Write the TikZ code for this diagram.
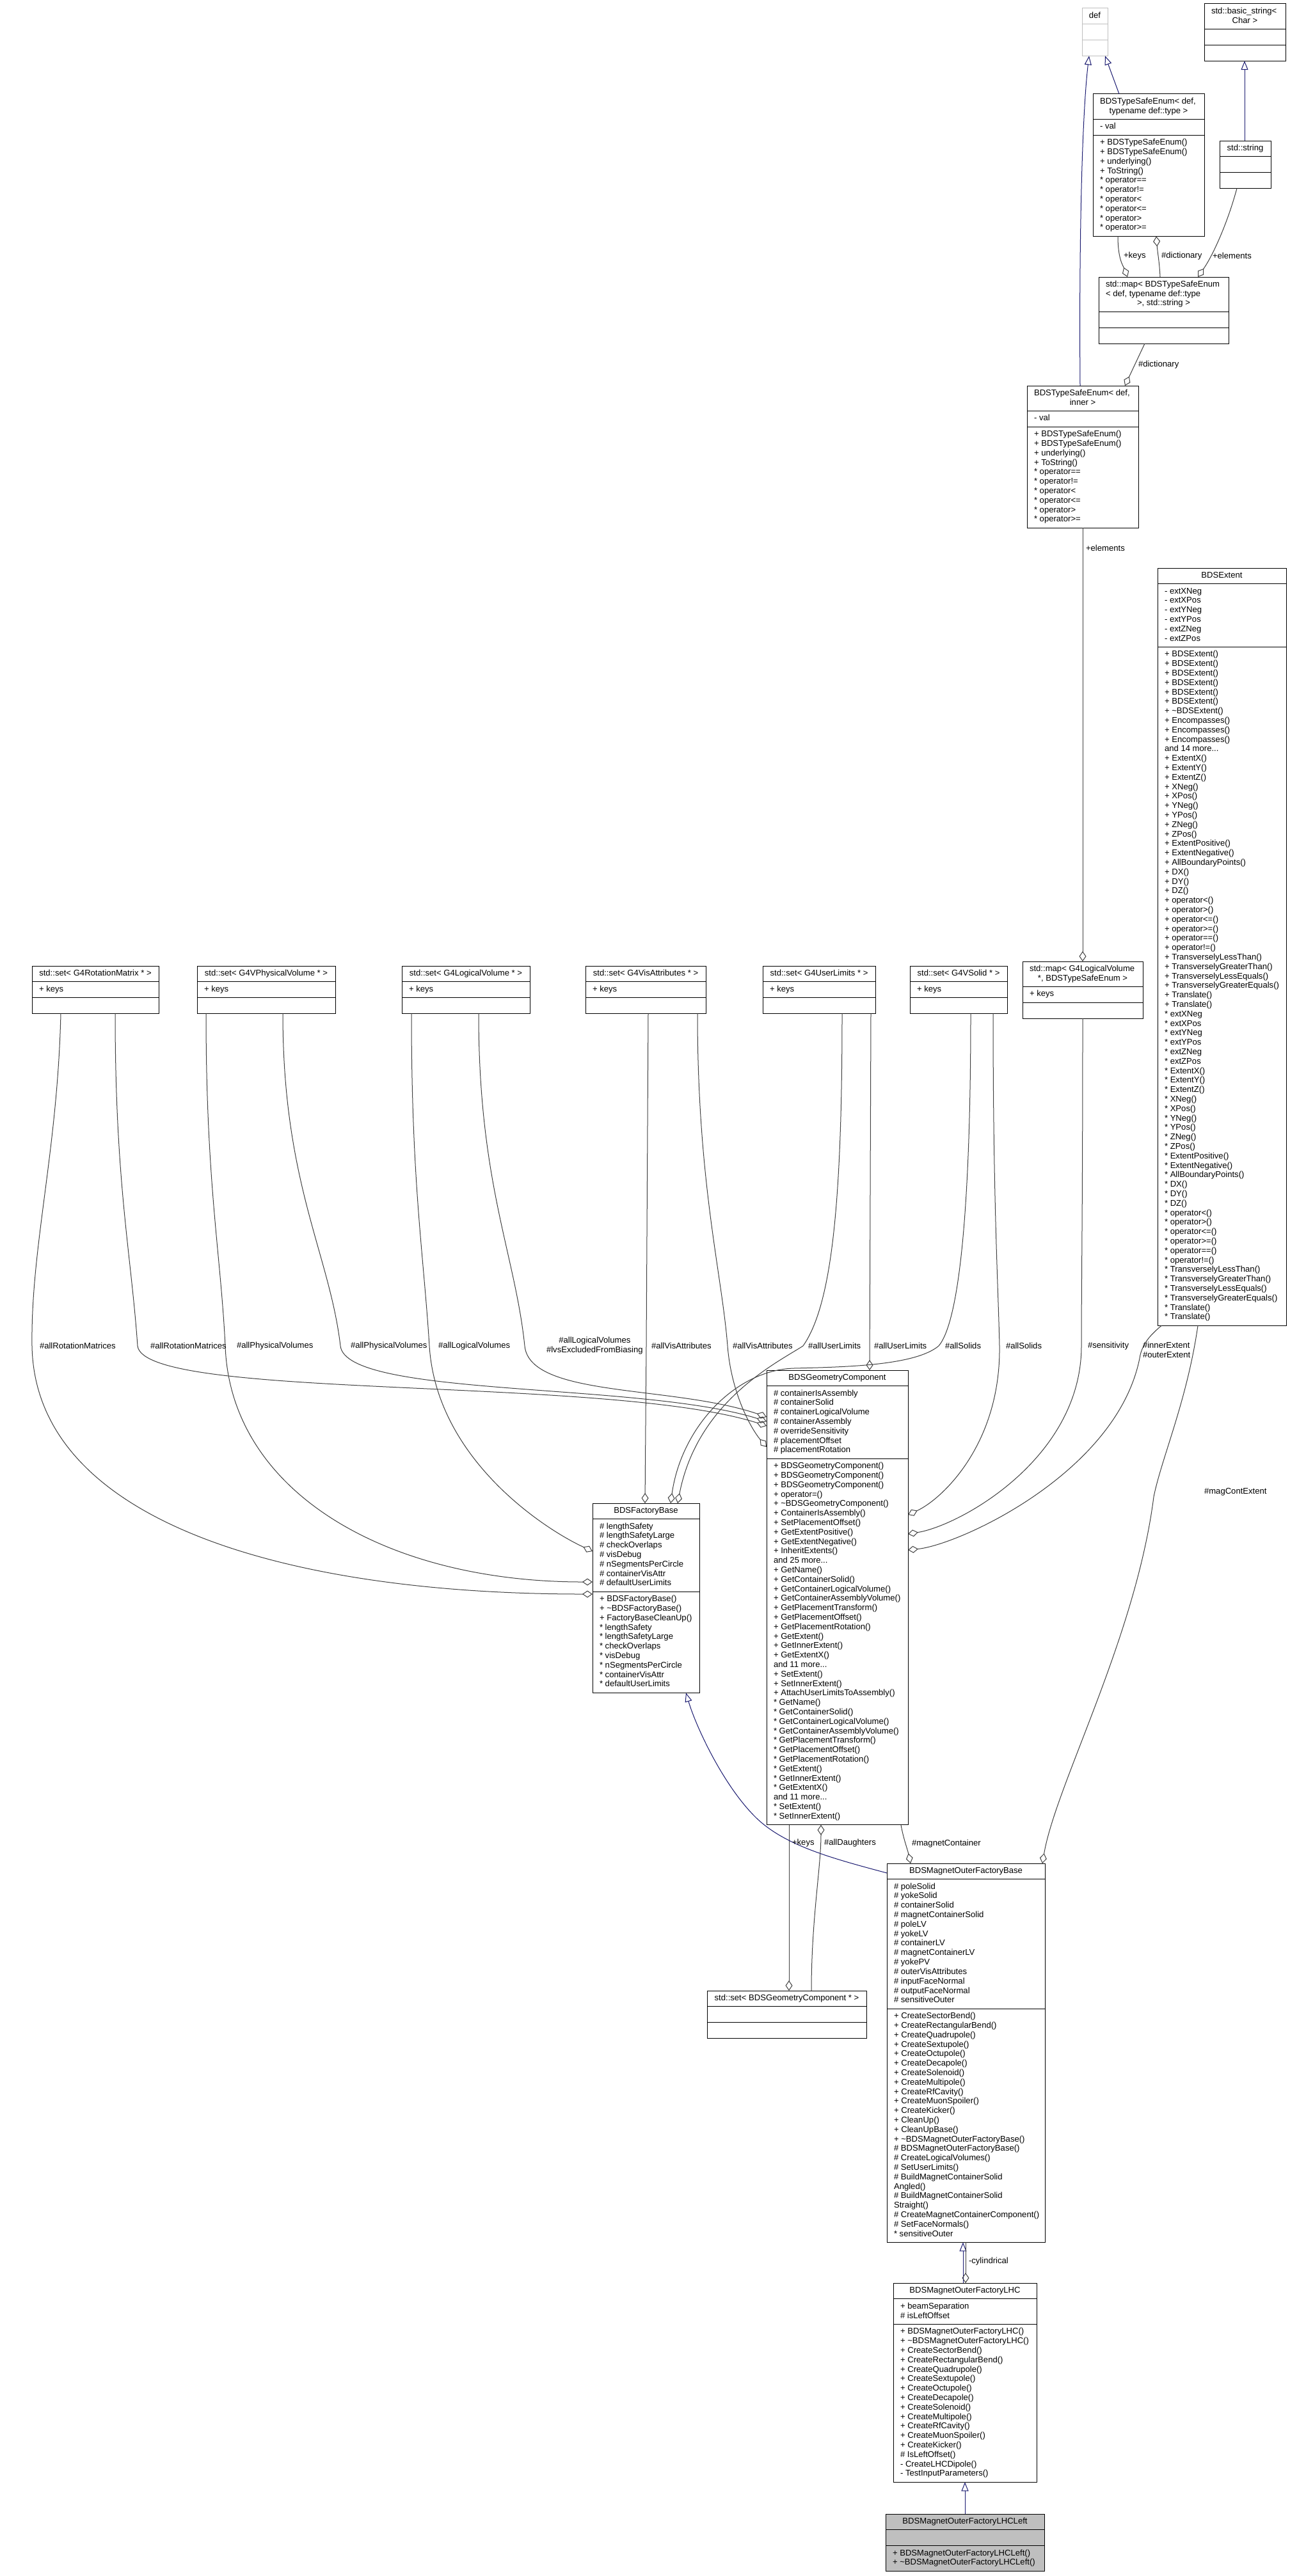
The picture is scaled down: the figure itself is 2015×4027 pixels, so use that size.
\documentclass[tikz,border=0pt]{standalone}
\usepackage{fontspec}
\setmainfont{Liberation Sans}
\usetikzlibrary{arrows.meta,calc}
\definecolor{edgegray}{HTML}{404040}
\definecolor{inhblue}{HTML}{191970}
\definecolor{lgray}{HTML}{BFBFBF}
\newcommand{\fnt}{\fontsize{13.1bp}{14.8bp}\selectfont}
\newcommand{\tb}[2]{\begin{tabular}{@{}#1@{}}#2\end{tabular}}
\newcommand{\st}{{*}}
% class box: [style]{name}{x}{y}{width}{title lines}{attr lines}{method lines}
\newcommand{\clsbox}[8][]{%
  \pgfmathsetmacro{\hT}{#6*14.8+10}%
  \pgfmathsetmacro{\hA}{max(#7,1)*14.8+10}%
  \pgfmathsetmacro{\hM}{max(#8,1)*14.8+10}%
  \pgfmathsetmacro{\hH}{\hT+\hA+\hM}%
  \pgfmathsetmacro{\hTA}{\hT+\hA}%
  \node[umlbox,#1,minimum width=#5bp,minimum height=\hH bp] (#2) at (#3,#4) {};
  \draw[sepline,#1] ([yshift=-\hT bp]#2.north west) -- ([yshift=-\hT bp]#2.north east);
  \draw[sepline,#1] ([yshift=-\hTA bp]#2.north west) -- ([yshift=-\hTA bp]#2.north east);
  \expandafter\xdef\csname hT#2\endcsname{\hT}%
  \expandafter\xdef\csname hTA#2\endcsname{\hTA}%
}
\newcommand{\ttlone}[2]{\node[txt,anchor=north] (#1-t) at ([yshift=-5bp]#1.north) {\tb{c}{#2}};}
\newcommand{\ttlmul}[4]{%
  \node[txt,anchor=north west] (#1-t) at ([xshift=11bp,yshift=-5bp]#1.north west) {\tb{l}{#3}};
  \pgfmathsetmacro{\yy}{5+#2*14.8}%
  \node[txt,anchor=north] (#1-u) at ([yshift=-\yy bp]#1.north) {\tb{c}{#4}};}
\newcommand{\att}[2]{%
  \pgfmathsetmacro{\yy}{\csname hT#1\endcsname+5}%
  \node[txt,anchor=north west] (#1-a) at ([xshift=11bp,yshift=-\yy bp]#1.north west) {\tb{l}{#2}};}
\newcommand{\mth}[2]{%
  \pgfmathsetmacro{\yy}{\csname hTA#1\endcsname+5}%
  \node[txt,anchor=north west] (#1-m) at ([xshift=11bp,yshift=-\yy bp]#1.north west) {\tb{l}{#2}};}
\newcommand{\tl}{\textasciitilde}
\begin{document}
\begin{tikzpicture}[x=1bp,y=-1bp,font=\fnt,
  umlbox/.style={draw=black,fill=white,line width=1bp,inner sep=0pt,outer sep=0pt,anchor=north west,rectangle},
  sepline/.style={draw=black,line width=1bp},
  txt/.style={inner sep=0pt,outer sep=0pt,font=\fnt,text=black},
  elabel/.style={inner sep=0pt,outer sep=0pt,font=\fnt,text=black,anchor=west},
  agg/.style={draw=edgegray,line width=1bp,-{Diamond[open,length=16bp,width=11bp]}},
  inh/.style={draw=inhblue,line width=1bp,-{Triangle[open,length=14bp,width=11bp]}}]
\useasboundingbox (0,0) rectangle (2015,4027);
\fill[white] (0,0) rectangle (2015,4027);

% ---------------- boxes ----------------
\clsbox[draw=lgray]{def}{1691}{13}{40}{1}{0}{0}
\ttlone{def}{def}
\clsbox{bstr}{1882}{6}{127}{2}{0}{0}
\ttlmul{bstr}{1}{std::basic\_string<}{Char >}
\clsbox{tse}{1708}{147}{174}{2}{1}{10}
\ttlmul{tse}{1}{BDSTypeSafeEnum< def,}{typename def::type >}
\att{tse}{- val}
\mth{tse}{+ BDSTypeSafeEnum()\\+ BDSTypeSafeEnum()\\+ underlying()\\+ ToString()\\\st{} operator==\\\st{} operator!=\\\st{} operator<\\\st{} operator<=\\\st{} operator>\\\st{} operator>=}
\clsbox{str}{1906}{220}{80}{1}{0}{0}
\ttlone{str}{std::string}
\clsbox{map}{1717}{433}{203}{3}{0}{0}
\ttlmul{map}{2}{std::map< BDSTypeSafeEnum\\< def, typename def::type}{>, std::string >}
\clsbox{tsei}{1605}{603}{174}{2}{1}{10}
\ttlmul{tsei}{1}{BDSTypeSafeEnum< def,}{inner >}
\att{tsei}{- val}
\mth{tsei}{+ BDSTypeSafeEnum()\\+ BDSTypeSafeEnum()\\+ underlying()\\+ ToString()\\\st{} operator==\\\st{} operator!=\\\st{} operator<\\\st{} operator<=\\\st{} operator>\\\st{} operator>=}
\clsbox{ext}{1809}{888}{201}{1}{6}{71}
\ttlone{ext}{BDSExtent}
\att{ext}{- extXNeg\\- extXPos\\- extYNeg\\- extYPos\\- extZNeg\\- extZPos}
\mth{ext}{+ BDSExtent()\\+ BDSExtent()\\+ BDSExtent()\\+ BDSExtent()\\+ BDSExtent()\\+ BDSExtent()\\+ \tl BDSExtent()\\+ Encompasses()\\+ Encompasses()\\+ Encompasses()\\and 14 more...\\+ ExtentX()\\+ ExtentY()\\+ ExtentZ()\\+ XNeg()\\+ XPos()\\+ YNeg()\\+ YPos()\\+ ZNeg()\\+ ZPos()\\+ ExtentPositive()\\+ ExtentNegative()\\+ AllBoundaryPoints()\\+ DX()\\+ DY()\\+ DZ()\\+ operator<()\\+ operator>()\\+ operator<=()\\+ operator>=()\\+ operator==()\\+ operator!=()\\+ TransverselyLessThan()\\+ TransverselyGreaterThan()\\+ TransverselyLessEquals()\\+ TransverselyGreaterEquals()\\+ Translate()\\+ Translate()\\\st{} extXNeg\\\st{} extXPos\\\st{} extYNeg\\\st{} extYPos\\\st{} extZNeg\\\st{} extZPos\\\st{} ExtentX()\\\st{} ExtentY()\\\st{} ExtentZ()\\\st{} XNeg()\\\st{} XPos()\\\st{} YNeg()\\\st{} YPos()\\\st{} ZNeg()\\\st{} ZPos()\\\st{} ExtentPositive()\\\st{} ExtentNegative()\\\st{} AllBoundaryPoints()\\\st{} DX()\\\st{} DY()\\\st{} DZ()\\\st{} operator<()\\\st{} operator>()\\\st{} operator<=()\\\st{} operator>=()\\\st{} operator==()\\\st{} operator!=()\\\st{} TransverselyLessThan()\\\st{} TransverselyGreaterThan()\\\st{} TransverselyLessEquals()\\\st{} TransverselyGreaterEquals()\\\st{} Translate()\\\st{} Translate()}

\clsbox{srot}{50}{1510}{198}{1}{1}{0}
\ttlone{srot}{std::set< G4RotationMatrix * >}
\att{srot}{+ keys}
\clsbox{spv}{308}{1510}{216}{1}{1}{0}
\ttlone{spv}{std::set< G4VPhysicalVolume * >}
\att{spv}{+ keys}
\clsbox{slv}{628}{1510}{200}{1}{1}{0}
\ttlone{slv}{std::set< G4LogicalVolume * >}
\att{slv}{+ keys}
\clsbox{svis}{915}{1510}{188}{1}{1}{0}
\ttlone{svis}{std::set< G4VisAttributes * >}
\att{svis}{+ keys}
\clsbox{sul}{1192}{1510}{176}{1}{1}{0}
\ttlone{sul}{std::set< G4UserLimits * >}
\att{sul}{+ keys}
\clsbox{ssol}{1422}{1510}{152}{1}{1}{0}
\ttlone{ssol}{std::set< G4VSolid * >}
\att{ssol}{+ keys}
\clsbox{mlv}{1598}{1503}{188}{2}{1}{0}
\ttlmul{mlv}{1}{std::map< G4LogicalVolume}{*, BDSTypeSafeEnum >}
\att{mlv}{+ keys}

\clsbox{gc}{1198}{2142}{221}{1}{7}{38}
\ttlone{gc}{BDSGeometryComponent}
\att{gc}{\# containerIsAssembly\\\# containerSolid\\\# containerLogicalVolume\\\# containerAssembly\\\# overrideSensitivity\\\# placementOffset\\\# placementRotation}
\mth{gc}{+ BDSGeometryComponent()\\+ BDSGeometryComponent()\\+ BDSGeometryComponent()\\+ operator=()\\+ \tl BDSGeometryComponent()\\+ ContainerIsAssembly()\\+ SetPlacementOffset()\\+ GetExtentPositive()\\+ GetExtentNegative()\\+ InheritExtents()\\and 25 more...\\+ GetName()\\+ GetContainerSolid()\\+ GetContainerLogicalVolume()\\+ GetContainerAssemblyVolume()\\+ GetPlacementTransform()\\+ GetPlacementOffset()\\+ GetPlacementRotation()\\+ GetExtent()\\+ GetInnerExtent()\\+ GetExtentX()\\and 11 more...\\+ SetExtent()\\+ SetInnerExtent()\\+ AttachUserLimitsToAssembly()\\\st{} GetName()\\\st{} GetContainerSolid()\\\st{} GetContainerLogicalVolume()\\\st{} GetContainerAssemblyVolume()\\\st{} GetPlacementTransform()\\\st{} GetPlacementOffset()\\\st{} GetPlacementRotation()\\\st{} GetExtent()\\\st{} GetInnerExtent()\\\st{} GetExtentX()\\and 11 more...\\\st{} SetExtent()\\\st{} SetInnerExtent()}

\clsbox{fb}{926}{2350}{167}{1}{7}{10}
\ttlone{fb}{BDSFactoryBase}
\att{fb}{\# lengthSafety\\\# lengthSafetyLarge\\\# checkOverlaps\\\# visDebug\\\# nSegmentsPerCircle\\\# containerVisAttr\\\# defaultUserLimits}
\mth{fb}{+ BDSFactoryBase()\\+ \tl BDSFactoryBase()\\+ FactoryBaseCleanUp()\\\st{} lengthSafety\\\st{} lengthSafetyLarge\\\st{} checkOverlaps\\\st{} visDebug\\\st{} nSegmentsPerCircle\\\st{} containerVisAttr\\\st{} defaultUserLimits}

\clsbox{mofb}{1386}{2913}{247}{1}{13}{24}
\ttlone{mofb}{BDSMagnetOuterFactoryBase}
\att{mofb}{\# poleSolid\\\# yokeSolid\\\# containerSolid\\\# magnetContainerSolid\\\# poleLV\\\# yokeLV\\\# containerLV\\\# magnetContainerLV\\\# yokePV\\\# outerVisAttributes\\\# inputFaceNormal\\\# outputFaceNormal\\\# sensitiveOuter}
\mth{mofb}{+ CreateSectorBend()\\+ CreateRectangularBend()\\+ CreateQuadrupole()\\+ CreateSextupole()\\+ CreateOctupole()\\+ CreateDecapole()\\+ CreateSolenoid()\\+ CreateMultipole()\\+ CreateRfCavity()\\+ CreateMuonSpoiler()\\+ CreateKicker()\\+ CleanUp()\\+ CleanUpBase()\\+ \tl BDSMagnetOuterFactoryBase()\\\# BDSMagnetOuterFactoryBase()\\\# CreateLogicalVolumes()\\\# SetUserLimits()\\\# BuildMagnetContainerSolid\\Angled()\\\# BuildMagnetContainerSolid\\Straight()\\\# CreateMagnetContainerComponent()\\\# SetFaceNormals()\\\st{} sensitiveOuter}

\clsbox{sgc}{1105}{3112}{249}{1}{0}{0}
\ttlone{sgc}{std::set< BDSGeometryComponent * >}

\clsbox{lhc}{1396}{3569}{224}{1}{2}{16}
\ttlone{lhc}{BDSMagnetOuterFactoryLHC}
\att{lhc}{+ beamSeparation\\\# isLeftOffset}
\mth{lhc}{+ BDSMagnetOuterFactoryLHC()\\+ \tl BDSMagnetOuterFactoryLHC()\\+ CreateSectorBend()\\+ CreateRectangularBend()\\+ CreateQuadrupole()\\+ CreateSextupole()\\+ CreateOctupole()\\+ CreateDecapole()\\+ CreateSolenoid()\\+ CreateMultipole()\\+ CreateRfCavity()\\+ CreateMuonSpoiler()\\+ CreateKicker()\\\# IsLeftOffset()\\- CreateLHCDipole()\\- TestInputParameters()}

\clsbox[fill=lgray]{lhcl}{1384}{3930}{248}{1}{0}{2}
\ttlone{lhcl}{BDSMagnetOuterFactoryLHCLeft}
\mth{lhcl}{+ BDSMagnetOuterFactoryLHCLeft()\\+ \tl BDSMagnetOuterFactoryLHCLeft()}

% ---------------- top edges ----------------
\draw[inh] ($(tse.north west)+(41,0)$) -- ($(def.south west)+(36,0)$);
\draw[inh] ($(tsei.north west)+(83,0)$) .. controls (1686,350) and (1692,170) .. ($(def.south west)+(11,0)$);
\draw[inh] ($(str.north west)+(39,0)$) -- ($(bstr.south west)+(63,0)$);
\draw[agg] ($(tse.south west)+(39,0)$) .. controls (1747,405) and (1755,415) .. ($(map.north west)+(45,0)$);
\draw[agg] ($(map.north west)+(96,0)$) .. controls (1812,410) and (1809,395) .. ($(tse.south west)+(99,0)$);
\draw[agg] ($(str.south west)+(27,0)$) .. controls (1918,350) and (1895,400) .. ($(map.north west)+(155,0)$);
\draw[agg] ($(map.south west)+(72,0)$) -- ($(tsei.north west)+(153,0)$);
\draw[agg] ($(tsei.south west)+(87,0)$) -- ($(mlv.north west)+(94,0)$);
\node[elabel] (lk1) at (1756,400) {+keys};
\node[elabel] (ld1) at (1815,400) {\#dictionary};
\node[elabel] (le1) at (1895,400) {+elements};
\node[elabel] (ld2) at (1779,570) {\#dictionary};
\node[elabel] (le2) at (1697,857) {+elements};

% ---------------- set edges ----------------
\coordinate (wRotFB) at (50,2104);
\coordinate (wRotGC) at (215,2104);
\coordinate (wPvFB) at (352,2104);
\coordinate (wPvGC) at (532,2104);
\coordinate (wLvFB) at (671,2104);
\coordinate (wLvGC) at (820,2104);
\coordinate (wVisFB) at (1010,2104);
\coordinate (wVisGC) at (1137,2104);
\coordinate (wUlFB) at (1255,2104);
\coordinate (wSolFB) at (1467,2104);
\coordinate (wSolGC) at (1562,2104);
\coordinate (wSens) at (1690,2104);
\coordinate (wExt) at (1782,2118);
\coordinate (wMag) at (1803,2340);

\draw[agg] ($(srot.south west)+(45,0)$) .. controls (90,1800) and (48,1950) .. (wRotFB) .. controls (55,2380) and (450,2492) .. ($(fb.north west)+(0,142)$);
\draw[agg] ($(srot.south west)+(130,0)$) .. controls (180,1850) and (205,1960) .. (wRotGC) .. controls (225,2190) and (950,2150) .. ($(gc.north west)+(0,87)$);
\draw[agg] ($(spv.south west)+(14,0)$) .. controls (322,1850) and (345,1960) .. (wPvFB) .. controls (360,2330) and (600,2473) .. ($(fb.north west)+(0,123)$);
\draw[agg] ($(spv.south west)+(134,0)$) .. controls (442,1850) and (515,1960) .. (wPvGC) .. controls (541,2185) and (1000,2160) .. ($(gc.north west)+(0,80)$);
\draw[agg] ($(slv.south west)+(15,0)$) .. controls (643,1850) and (662,1960) .. (wLvFB) .. controls (682,2280) and (850,2390) .. ($(fb.north west)+(0,75)$);
\draw[agg] ($(slv.south west)+(120,0)$) .. controls (748,1850) and (805,1960) .. (wLvGC) .. controls (828,2185) and (1050,2165) .. ($(gc.north west)+(0,73)$);
\draw[agg] ($(svis.south west)+(98,0)$) -- (wVisFB) -- ($(fb.north west)+(82,0)$);
\draw[agg] ($(svis.south west)+(175,0)$) .. controls (1090,1850) and (1128,1990) .. (wVisGC) .. controls (1143,2180) and (1175,2235) .. ($(gc.north west)+(0,120)$);
\draw[agg] ($(sul.south west)+(124,0)$) .. controls (1316,1880) and (1300,2040) .. (wUlFB) .. controls (1215,2130) and (1090,2190) .. ($(fb.north west)+(133,0)$);
\draw[agg] ($(sul.south west)+(169,0)$) -- ($(gc.north west)+(161,0)$);
\draw[agg] ($(ssol.south west)+(95,0)$) .. controls (1517,1880) and (1500,2065) .. (wSolFB) .. controls (1430,2135) and (1320,2137) .. (1240,2139) .. controls (1150,2142) and (1065,2230) .. ($(fb.north west)+(122,0)$);
\draw[agg] ($(ssol.south west)+(130,0)$) .. controls (1552,1880) and (1560,2010) .. (wSolGC) .. controls (1564,2260) and (1470,2345) .. ($(gc.north east)+(0,226)$);
\draw[agg] ($(mlv.south west)+(94,0)$) .. controls (1692,1880) and (1690,2010) .. (wSens) .. controls (1690,2280) and (1500,2385) .. ($(gc.north east)+(0,256)$);
\draw[agg] ($(ext.south west)+(6,0)$) .. controls (1800,2085) and (1787,2098) .. (wExt) .. controls (1750,2300) and (1500,2415) .. ($(gc.north east)+(0,281)$);
\draw[agg] ($(ext.south west)+(63,0)$) .. controls (1855,2190) and (1815,2280) .. (wMag) .. controls (1775,2560) and (1650,2790) .. ($(mofb.north west)+(243,0)$);

\node[elabel] (la1) at (62,2104) {\#allRotationMatrices};
\node[elabel] (la2) at (235,2104) {\#allRotationMatrices};
\node[elabel] (la3) at (370,2104) {\#allPhysicalVolumes};
\node[elabel] (la4) at (548,2104) {\#allPhysicalVolumes};
\node[elabel] (la5) at (685,2104) {\#allLogicalVolumes};
\node[elabel] (la6) at (854,2104) {\tb{c}{\#allLogicalVolumes\\\#lvsExcludedFromBiasing}};
\node[elabel] (la7) at (1018,2104) {\#allVisAttributes};
\node[elabel] (la8) at (1145,2104) {\#allVisAttributes};
\node[elabel] (la9) at (1263,2104) {\#allUserLimits};
\node[elabel] (la10) at (1366,2104) {\#allUserLimits};
\node[elabel] (la11) at (1477,2104) {\#allSolids};
\node[elabel] (la12) at (1572,2104) {\#allSolids};
\node[elabel] (la13) at (1700,2104) {\#sensitivity};
\node[elabel] (la14) at (1786,2112) {\tb{l}{\#innerExtent\\\#outerExtent}};
\node[elabel] (la15) at (1882,2332) {\#magContExtent};

% ---------------- lower edges ----------------
\draw[agg] ($(gc.south west)+(210,0)$) .. controls (1412,2875) and (1418,2890) .. ($(mofb.north west)+(37,0)$);
\draw[agg] ($(gc.south west)+(35,0)$) -- ($(sgc.north west)+(128,0)$);
\draw[agg] ($(sgc.north west)+(163,0)$) .. controls (1268,3000) and (1283,2920) .. ($(gc.south west)+(85,0)$);
\draw[inh] ($(mofb.north west)+(0,15)$) .. controls (1300,2905) and (1225,2885) .. (1180,2840) .. controls (1130,2790) and (1088,2700) .. ($(fb.south west)+(146,0)$);
\draw[inh] ($(lhc.north west)+(109,0)$) -- ($(mofb.south west)+(119,0)$);
\draw[agg] ($(mofb.south west)+(123,0)$) -- ($(lhc.north west)+(113,0)$);
\draw[inh] ($(lhcl.north west)+(124,0)$) -- ($(lhc.south west)+(112,0)$);
\node[elabel] (lmc) at (1425,2882) {\#magnetContainer};
\node[elabel] (lk2) at (1238,2881) {+keys};
\node[elabel] (lad) at (1288,2881) {\#allDaughters};
\node[elabel] (lcy) at (1514,3535) {-cylindrical};
\end{tikzpicture}
\end{document}
